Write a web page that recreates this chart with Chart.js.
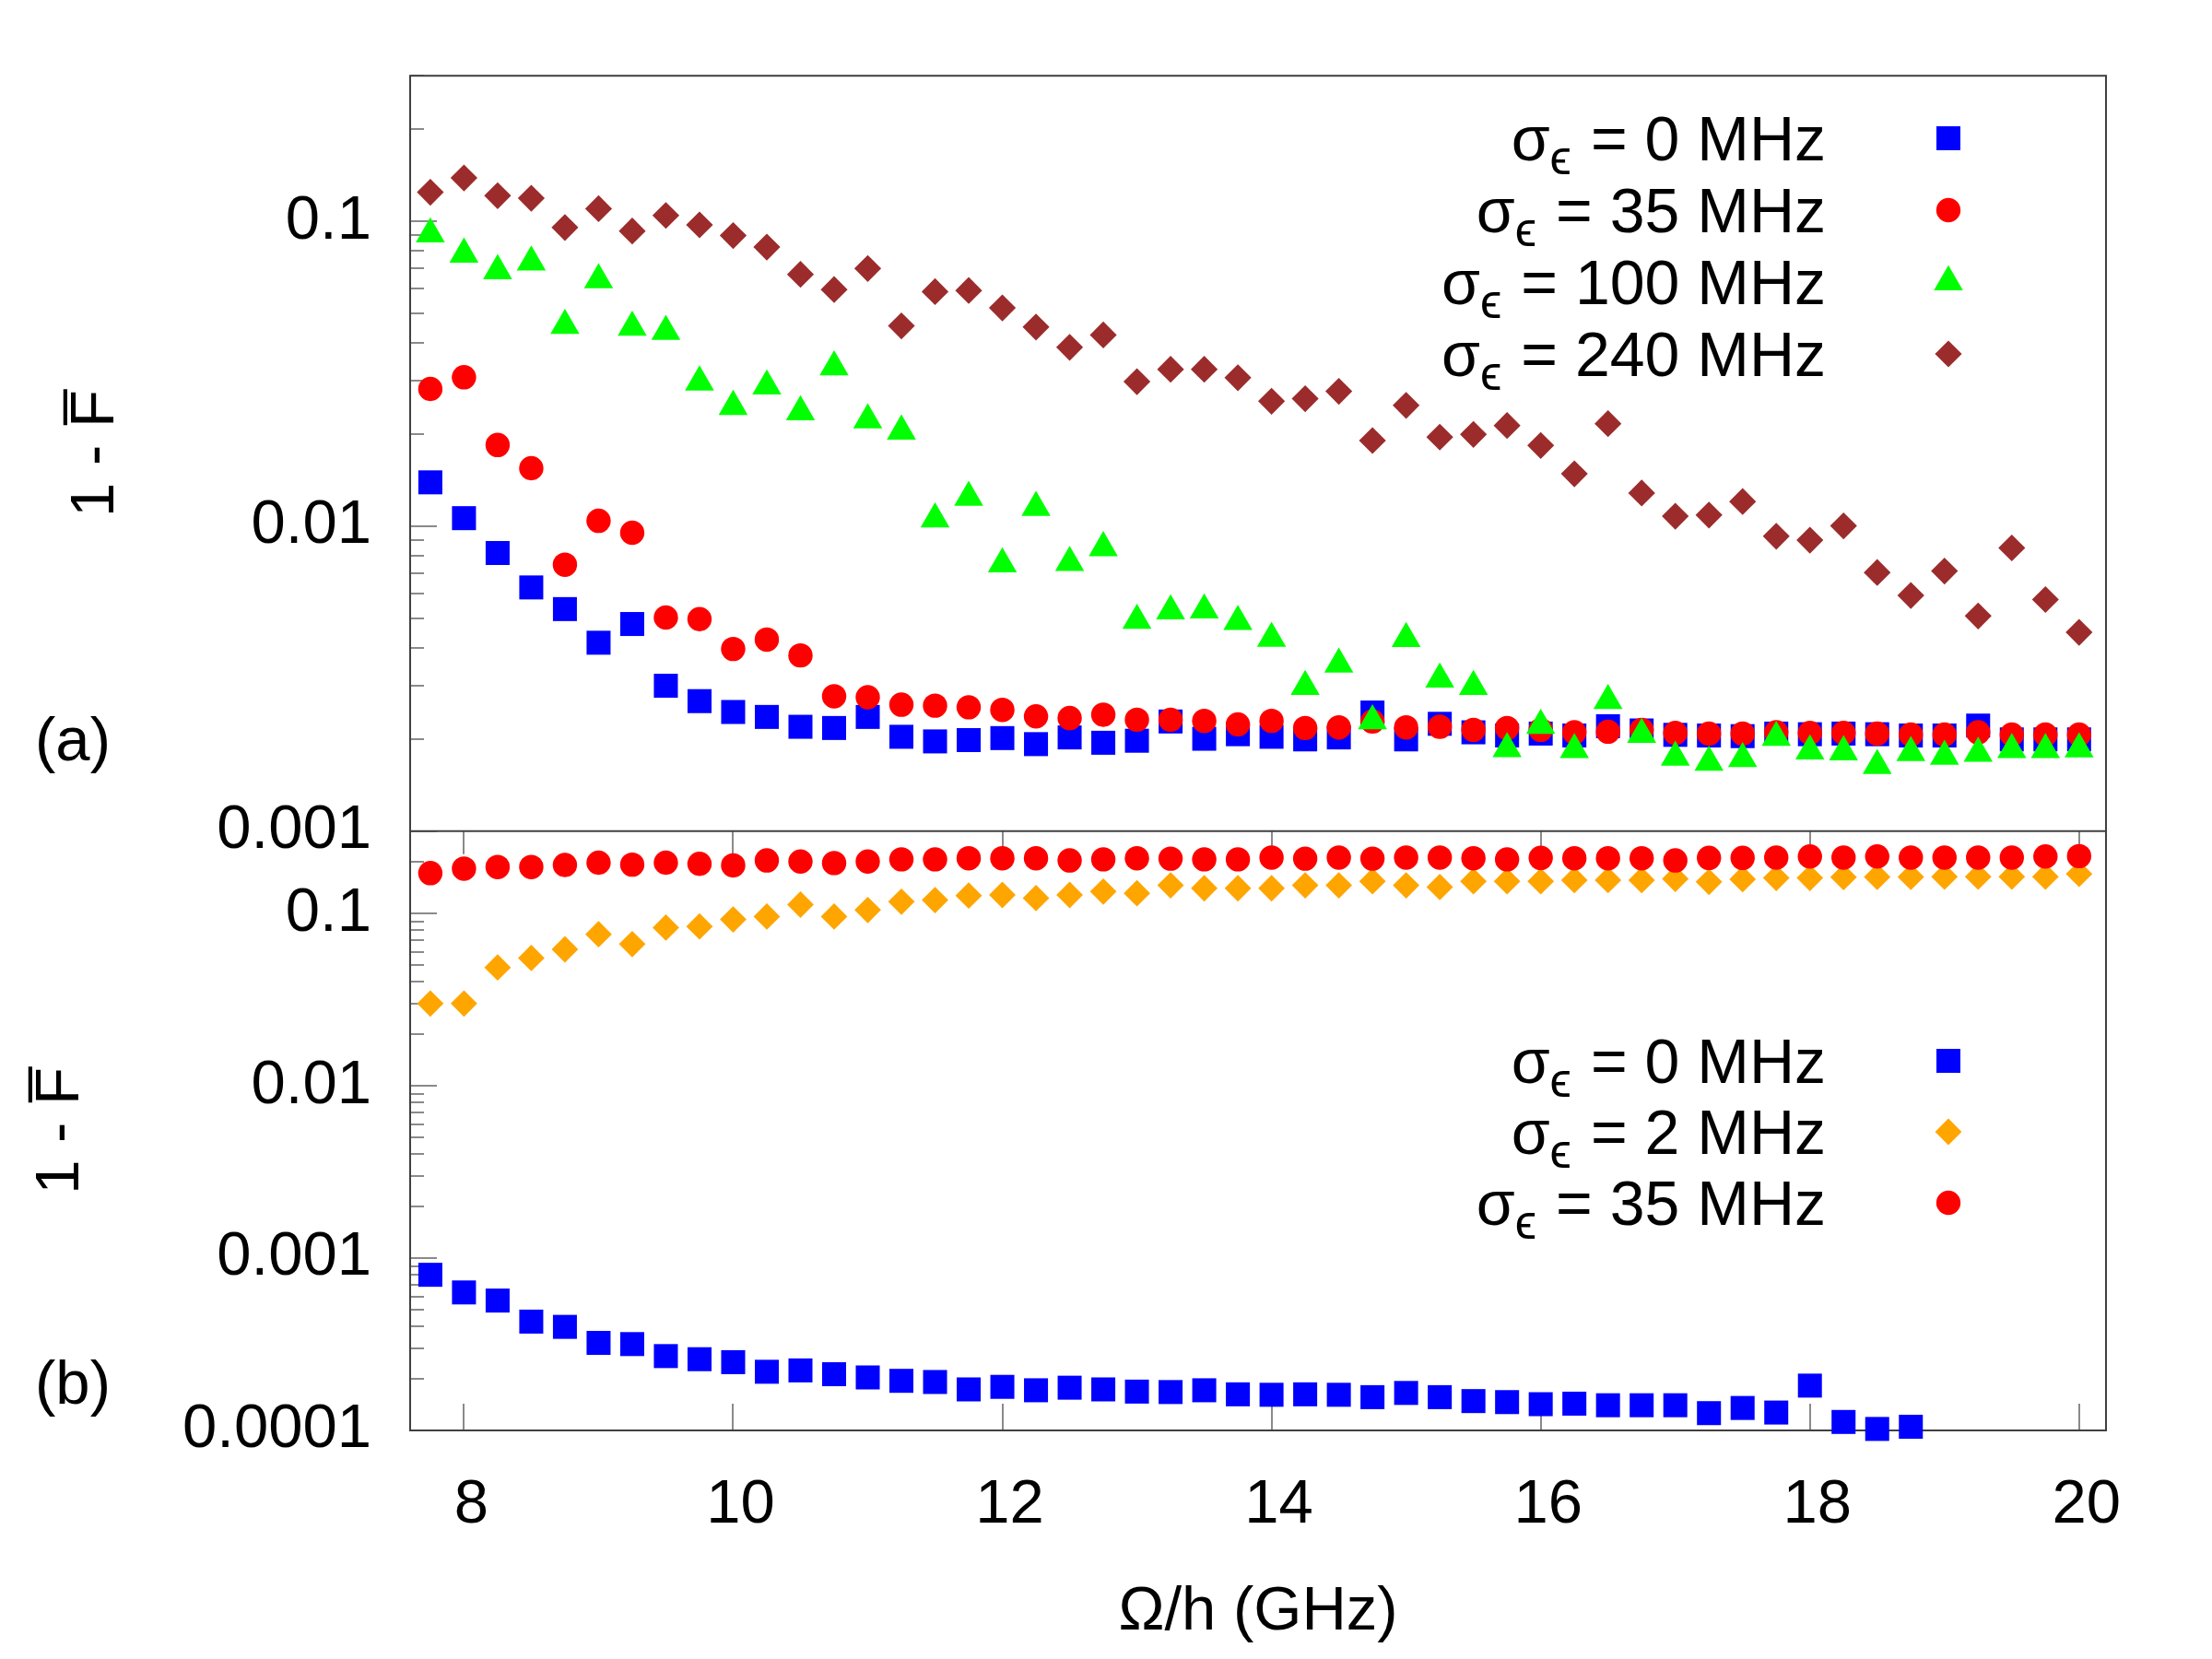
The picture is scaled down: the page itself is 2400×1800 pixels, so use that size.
<!DOCTYPE html>
<html><head><meta charset="utf-8">
<script src="https://cdn.jsdelivr.net/npm/chart.js@4/dist/chart.umd.min.js"></script>
<style>html,body{margin:0;padding:0;background:#fff;}canvas{display:block;}</style>
</head><body>
<canvas id="c" width="2400" height="1800"></canvas>
<script>
// ---------- data ----------
const freqGHz = [7.75, 8.0, 8.25, 8.5, 8.75, 9.0, 9.25, 9.5, 9.75, 10.0, 10.25, 10.5, 10.75, 11.0, 11.25, 11.5, 11.75, 12.0, 12.25, 12.5, 12.75, 13.0, 13.25, 13.5, 13.75, 14.0,
  14.25, 14.5, 14.75, 15.0, 15.25, 15.5, 15.75, 16.0, 16.25, 16.5, 16.75, 17.0, 17.25, 17.5, 17.75, 18.0, 18.25, 18.5, 18.75, 19.0, 19.25, 19.5, 19.75, 20.0];

// panel (a)
const topSigma0 = [0.01393, 0.01063, 0.00817, 0.0063, 0.00535, 0.00415, 0.00478, 0.003, 0.00267, 0.00246, 0.00237, 0.0022, 0.00218, 0.00237, 0.00204, 0.00197, 0.00199, 0.00202, 0.00193, 0.00203, 0.00195, 0.00198, 0.00229, 0.00201, 0.00208, 0.00204,
  0.002, 0.00203, 0.00245, 0.002, 0.00225, 0.00211, 0.00206, 0.00209, 0.00206, 0.00221, 0.00214, 0.00207, 0.00206, 0.00205, 0.00209, 0.00208, 0.00209, 0.00208, 0.00206, 0.00206, 0.00222, 0.002, 0.002, 0.002];
const topSigma35 = [0.0282, 0.0308, 0.01847, 0.0155, 0.00748, 0.01042, 0.00952, 0.00502, 0.00496, 0.00396, 0.00425, 0.00377, 0.00277, 0.00275, 0.0026, 0.00258, 0.00255, 0.0025, 0.00238, 0.00235, 0.00241, 0.00232, 0.00232, 0.0023, 0.00224, 0.0023,
  0.00218, 0.00219, 0.00229, 0.00219, 0.0022, 0.00215, 0.00218, 0.00215, 0.00211, 0.00212, 0.00215, 0.0021, 0.00209, 0.00209, 0.00211, 0.0021, 0.0021, 0.00209, 0.002075, 0.002075, 0.00211, 0.002075, 0.002075, 0.002075];
const topSigma100 = [0.0908, 0.078, 0.0688, 0.0734, 0.0455, 0.0642, 0.0449, 0.0435, 0.0297, 0.0247, 0.0288, 0.0237, 0.0333, 0.0223, 0.0205, 0.01055, 0.01243, 0.00752, 0.01152, 0.0076, 0.0085, 0.00491, 0.00527, 0.00531, 0.00487, 0.00429,
  0.00298, 0.00353, 0.0023, 0.00428, 0.00315, 0.00298, 0.001864, 0.00222, 0.00185, 0.00268, 0.002075, 0.001747, 0.001682, 0.00173, 0.00203, 0.00183, 0.00182, 0.00164, 0.00181, 0.00176, 0.0018, 0.00185, 0.00185, 0.00186];
const topSigma240 = [0.1245, 0.1387, 0.1213, 0.119, 0.0954, 0.110, 0.0929, 0.1045, 0.0973, 0.0898, 0.0823, 0.067, 0.0597, 0.070, 0.0454, 0.0588, 0.0593, 0.052, 0.045, 0.0386, 0.0424, 0.0298, 0.0327, 0.0327, 0.0307, 0.0257,
  0.0262, 0.0277, 0.0191, 0.0249, 0.0196, 0.0200, 0.0214, 0.0184, 0.01486, 0.0217, 0.01285, 0.01079, 0.01088, 0.01205, 0.00927, 0.0090, 0.01003, 0.00705, 0.00593, 0.00713, 0.00508, 0.00849, 0.00575, 0.00449];

// panel (b)
const botSigma0 = [0.0008, 0.000632, 0.000567, 0.000428, 0.000399, 0.000322, 0.000317, 0.00027, 0.000259, 0.000249, 0.000219, 0.000223, 0.000212, 0.000203, 0.000194, 0.000191, 0.000173, 0.000179, 0.000171, 0.000177, 0.000173, 0.000168, 0.000167, 0.000171, 0.000162, 0.000161,
  0.000162, 0.000161, 0.000156, 0.000165, 0.000156, 0.000148, 0.000146, 0.000142, 0.000143, 0.00014, 0.00014, 0.00014, 0.000126, 0.000135, 0.000127, 0.000182, 0.000112, 0.000102, 0.000105, null, null, null, null, null];
const botSigma2 = [0.030, 0.030, 0.0486, 0.0551, 0.0619, 0.0757, 0.0664, 0.0828, 0.0841, 0.0923, 0.096, 0.1125, 0.096, 0.1047, 0.117, 0.1195, 0.1269, 0.128, 0.1228, 0.128, 0.134, 0.131, 0.1455, 0.14, 0.14, 0.14,
  0.1455, 0.1455, 0.1537, 0.1455, 0.1423, 0.1537, 0.1537, 0.1537, 0.156, 0.156, 0.156, 0.1588, 0.1525, 0.158, 0.1607, 0.1607, 0.1625, 0.163, 0.163, 0.1635, 0.1635, 0.1635, 0.1635, 0.1696];
const botSigma35 = [0.1714, 0.182, 0.186, 0.186, 0.191, 0.197, 0.192, 0.197, 0.194, 0.19, 0.203, 0.2, 0.196, 0.2, 0.206, 0.206, 0.209, 0.209, 0.209, 0.203, 0.206, 0.209, 0.208, 0.206, 0.206, 0.211,
  0.208, 0.211, 0.208, 0.211, 0.211, 0.209, 0.206, 0.21, 0.209, 0.209, 0.209, 0.203, 0.21, 0.21, 0.211, 0.214, 0.211, 0.214, 0.211, 0.211, 0.211, 0.211, 0.214, 0.215];

// ticks and labels
const xTickValues = [8, 10, 12, 14, 16, 18, 20];
const xTickLabels = ['8', '10', '12', '14', '16', '18', '20'];
const yTopTickValues = [0.001, 0.01, 0.1];
const yTopTickLabels = ['0.001', '0.01', '0.1'];
const yBotTickValues = [0.0001, 0.001, 0.01, 0.1];
const yBotTickLabels = ['0.0001', '0.001', '0.01', '0.1'];
const legendTopValues = ['0', '35', '100', '240'];
const legendBotValues = ['0', '2', '35'];
const xTitle = 'Ω/h (GHz)';
const yTitle = '1 - F\u0305';
const panelLabels = ['(a)', '(b)'];

// ---------- styling ----------
const FONT = "'Liberation Sans', Arial, sans-serif";
const FS = 67;
const LFS = 68;
const C_BLUE = '#0000ff', C_RED = '#ff0000', C_GREEN = '#00ff00', C_BROWN = '#9c2c2c', C_ORANGE = '#ffa500';
const STY = {
  blue:   {pointStyle: 'rect', radius: 18.4, color: C_BLUE},
  red:    {pointStyle: 'circle', radius: 13.2, color: C_RED},
  green:  {pointStyle: 'triangle', radius: 18.2, color: C_GREEN},
  brown:  {pointStyle: 'rectRot', radius: 14.6, color: C_BROWN},
  orange: {pointStyle: 'rectRot', radius: 14.4, color: C_ORANGE}
};

function pts(arr) {
  const out = [];
  freqGHz.forEach((x, i) => { if (arr[i] != null) out.push({x: x, y: arr[i]}); });
  return out;
}
function ds(label, arr, axis, st, order) {
  return {
    label: label, data: pts(arr), yAxisID: axis, showLine: false, clip: false, order: order,
    pointStyle: st.pointStyle, pointRadius: st.radius, pointHoverRadius: st.radius,
    backgroundColor: st.color, borderColor: st.color, pointBackgroundColor: st.color,
    pointBorderColor: st.color, pointBorderWidth: 0, borderWidth: 0
  };
}

function drawMarker(ctx, st, x, y) {
  ctx.fillStyle = st.color;
  ctx.strokeStyle = st.color;
  if (Chart.helpers && Chart.helpers.drawPoint) {
    Chart.helpers.drawPoint(ctx, {pointStyle: st.pointStyle, radius: st.radius, rotation: 0, borderWidth: 0}, x, y);
  }
}

function drawLegend(ctx, values, styles, textRight, markerX, rowCenters) {
  values.forEach((v, i) => {
    const yc = rowCenters[i];
    const base = yc + 24;
    ctx.fillStyle = '#000';
    ctx.textAlign = 'right';
    ctx.textBaseline = 'alphabetic';
    ctx.font = LFS + 'px ' + FONT;
    const rest = ' = ' + v + ' MHz';
    ctx.fillText(rest, textRight, base);
    let xr = textRight - ctx.measureText(rest).width - 2;
    ctx.font = '53px ' + FONT;
    ctx.fillText('ϵ', xr, base + 15);
    xr -= ctx.measureText('ϵ').width;
    ctx.font = LFS + 'px ' + FONT;
    ctx.fillText('σ', xr, base);
    drawMarker(ctx, styles[i], markerX, yc);
  });
}

const decor = {
  id: 'decor',
  beforeDatasetsDraw(chart) {
    const {ctx, chartArea: a, scales} = chart;
    const yA = scales.yA, yB = scales.yB, xs = scales.x;
    ctx.save();
    const line = (x1, y1, x2, y2) => { ctx.beginPath(); ctx.moveTo(x1, y1); ctx.lineTo(x2, y2); ctx.stroke(); };
    ctx.strokeStyle = '#8a8a8a';
    ctx.lineWidth = 2;
    [[yA, -3, -1], [yB, -4, -1]].forEach(([s, lo, hi]) => {
      for (let e = lo; e <= hi; e++) {
        for (let m = 1; m <= 9; m++) {
          const v = m * Math.pow(10, e);
          if (v < s.min * 0.9999 || v > s.max * 1.0001) continue;
          const py = Math.round(s.getPixelForValue(v));
          line(a.left, py, a.left + (m === 1 ? 29 : 15), py);
        }
      }
    });
    xTickValues.forEach(v => {
      const px = Math.round(xs.getPixelForValue(v));
      line(px, yB.top, px, yB.top + 25);
      line(px, yB.bottom, px, yB.bottom - 29);
    });
    ctx.strokeStyle = '#404040';
    ctx.lineWidth = 2;
    ctx.strokeRect(a.left, a.top, a.right - a.left, a.bottom - a.top);
    line(a.left, yA.bottom, a.right, yA.bottom);
    ctx.restore();
  },
  afterDatasetsDraw(chart) {
    const {ctx, scales} = chart;
    const yA = scales.yA, yB = scales.yB;
    ctx.save();
    drawLegend(ctx, legendTopValues, [STY.blue, STY.red, STY.green, STY.brown], 1981, 2114, [150, 228, 306, 384]);
    drawLegend(ctx, legendBotValues, [STY.blue, STY.orange, STY.red], 1981, 2114, [1151, 1228, 1305]);
    // y titles
    ctx.fillStyle = '#000';
    ctx.font = FS + 'px ' + FONT;
    ctx.textAlign = 'center';
    ctx.textBaseline = 'alphabetic';
    [[123, (yA.top + yA.bottom) / 2], [85, (yB.top + yB.bottom) / 2]].forEach(([bx, cy]) => {
      ctx.save();
      ctx.translate(bx, cy);
      ctx.rotate(-Math.PI / 2);
      ctx.fillText(yTitle, 0, 0);
      ctx.restore();
    });
    // panel labels
    ctx.fillText(panelLabels[0], 79, 825);
    ctx.fillText(panelLabels[1], 79, 1523);
    ctx.restore();
  }
};

const yCommon = (vals, labels, weight, min) => ({
  type: 'logarithmic', position: 'left', stack: 'panels', stackWeight: weight, offset: false,
  min: min, max: 0.3,
  afterBuildTicks: s => { s.ticks = vals.map(v => ({value: v, major: true})); },
  afterFit: s => { s.width = 445; },
  grid: {display: false, drawTicks: false},
  border: {display: false},
  ticks: {autoSkip: false, padding: 42, color: '#000', font: {family: FONT, size: FS},
    callback: (v, i) => labels[i]}
});

new Chart(document.getElementById('c'), {
  type: 'scatter',
  data: {
    datasets: [
      ds('σϵ = 240 MHz', topSigma240, 'yA', STY.brown, 1),
      ds('σϵ = 100 MHz', topSigma100, 'yA', STY.green, 2),
      ds('σϵ = 35 MHz', topSigma35, 'yA', STY.red, 3),
      ds('σϵ = 0 MHz', topSigma0, 'yA', STY.blue, 4),
      ds('σϵ = 35 MHz', botSigma35, 'yB', STY.red, 5),
      ds('σϵ = 2 MHz', botSigma2, 'yB', STY.orange, 6),
      ds('σϵ = 0 MHz', botSigma0, 'yB', STY.blue, 7)
    ]
  },
  options: {
    responsive: false,
    devicePixelRatio: 1,
    animation: false,
    layout: {padding: {left: 0, top: 78, right: 115, bottom: 0}},
    plugins: {legend: {display: false}, tooltip: {enabled: false}},
    scales: {
      x: {
        type: 'linear', position: 'bottom', min: 7.6, max: 20.2,
        afterBuildTicks: s => { s.ticks = xTickValues.map(v => ({value: v})); },
        afterFit: s => { s.height = 248; },
        grid: {display: false, drawTicks: false},
        border: {display: false},
        ticks: {autoSkip: false, maxRotation: 0, padding: 41, labelOffset: 8, color: '#000', font: {family: FONT, size: FS},
          callback: (v, i) => xTickLabels[i]},
        title: {display: true, text: xTitle, color: '#000', font: {family: FONT, size: FS}, padding: {top: 0, bottom: 10}}
      },
      yB: yCommon(yBotTickValues, yBotTickLabels, 652, 0.0001),
      yA: yCommon(yTopTickValues, yTopTickLabels, 822, 0.001)
    }
  },
  plugins: [decor]
});
</script>
</body></html>
